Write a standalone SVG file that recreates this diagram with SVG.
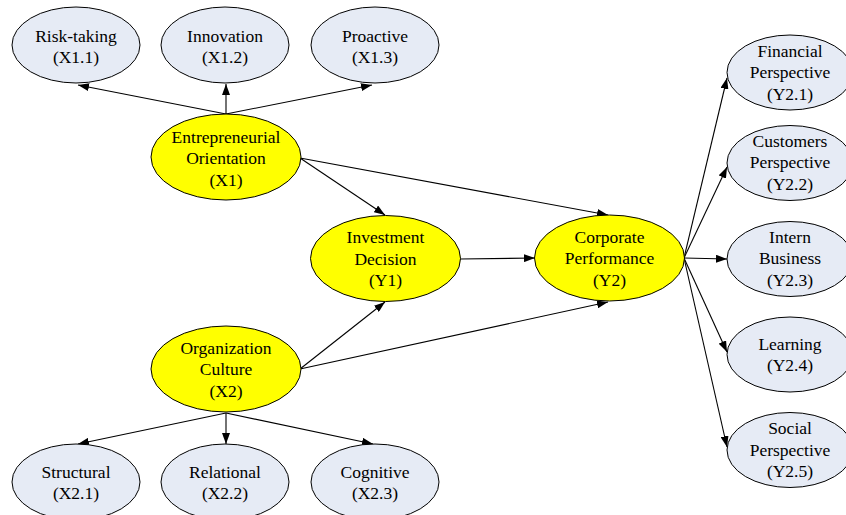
<svg xmlns="http://www.w3.org/2000/svg" width="846" height="515" viewBox="0 0 846 515">
<defs>
<marker id="ah" markerUnits="userSpaceOnUse" markerWidth="12" markerHeight="8" refX="11" refY="4" orient="auto">
<path d="M0,0 L11,4 L0,8 z" fill="#000"/>
</marker>
<style>
.ind{fill:#e6ebf5;stroke:#000;stroke-width:1}
.lat{fill:#ffff00;stroke:#000;stroke-width:1}
.t text{font-size:17.5px;fill:#000;text-anchor:middle}
.e{stroke:#000;stroke-width:1.1;fill:none;marker-end:url(#ah)}
</style>
</defs>
<rect width="846" height="515" fill="#fff"/>
<g id="connectors">
<line class="e" x1="226" y1="114" x2="78" y2="85"/>
<line class="e" x1="226" y1="114" x2="226" y2="84"/>
<line class="e" x1="226" y1="114" x2="372" y2="85"/>
<line class="e" x1="226" y1="413" x2="78" y2="444"/>
<line class="e" x1="226" y1="413" x2="226" y2="444"/>
<line class="e" x1="226" y1="413" x2="373" y2="444"/>
<line class="e" x1="300" y1="158" x2="385" y2="215"/>
<line class="e" x1="300" y1="158" x2="608" y2="215"/>
<line class="e" x1="460" y1="259" x2="535" y2="258"/>
<line class="e" x1="300" y1="369" x2="385" y2="302"/>
<line class="e" x1="300" y1="369" x2="608" y2="302"/>
<line class="e" x1="684" y1="258" x2="727" y2="78"/>
<line class="e" x1="684" y1="258" x2="727" y2="167"/>
<line class="e" x1="684" y1="258" x2="727" y2="259"/>
<line class="e" x1="684" y1="258" x2="727" y2="352"/>
<line class="e" x1="684" y1="258" x2="727" y2="447"/>
</g>
<g class="t" font-family="'Liberation Serif', 'DejaVu Serif', serif">
<g id="x11"><ellipse class="ind" cx="76" cy="45" rx="64" ry="38"/><text x="76" y="42">Risk-taking</text><text x="76" y="63">(X1.1)</text></g>
<g id="x12"><ellipse class="ind" cx="225" cy="45" rx="64" ry="38"/><text x="225" y="42">Innovation</text><text x="225" y="63">(X1.2)</text></g>
<g id="x13"><ellipse class="ind" cx="375" cy="45" rx="64" ry="38"/><text x="375" y="42">Proactive</text><text x="375" y="63">(X1.3)</text></g>
<g id="x1"><ellipse class="lat" cx="226" cy="157" rx="75" ry="43"/><text x="226" y="143">Entrepreneurial</text><text x="226" y="164">Orientation</text><text x="226" y="186">(X1)</text></g>
<g id="x2"><ellipse class="lat" cx="226" cy="369" rx="75" ry="43"/><text x="226" y="354">Organization</text><text x="226" y="375">Culture</text><text x="226" y="397">(X2)</text></g>
<g id="y1"><ellipse class="lat" cx="385.5" cy="258.5" rx="75" ry="43"/><text x="385.5" y="243">Investment</text><text x="385.5" y="265">Decision</text><text x="385.5" y="286">(Y1)</text></g>
<g id="y2"><ellipse class="lat" cx="609.5" cy="258" rx="75" ry="43"/><text x="609.5" y="243">Corporate</text><text x="609.5" y="264">Performance</text><text x="609.5" y="286">(Y2)</text></g>
<g id="x21"><ellipse class="ind" cx="76" cy="482" rx="64" ry="38"/><text x="76" y="478">Structural</text><text x="76" y="499">(X2.1)</text></g>
<g id="x22"><ellipse class="ind" cx="225" cy="482" rx="64" ry="38"/><text x="225" y="478">Relational</text><text x="225" y="499">(X2.2)</text></g>
<g id="x23"><ellipse class="ind" cx="375" cy="482" rx="64" ry="38"/><text x="375" y="478">Cognitive</text><text x="375" y="499">(X2.3)</text></g>
<g id="y21"><ellipse class="ind" cx="790" cy="72.5" rx="63" ry="37.5"/><text x="790" y="57">Financial</text><text x="790" y="78">Perspective</text><text x="790" y="100">(Y2.1)</text></g>
<g id="y22"><ellipse class="ind" cx="790" cy="163" rx="63" ry="37.5"/><text x="790" y="147">Customers</text><text x="790" y="168">Perspective</text><text x="790" y="190">(Y2.2)</text></g>
<g id="y23"><ellipse class="ind" cx="790" cy="259" rx="63" ry="37.5"/><text x="790" y="243">Intern</text><text x="790" y="264">Business</text><text x="790" y="286">(Y2.3)</text></g>
<g id="y24"><ellipse class="ind" cx="790" cy="354.5" rx="63" ry="37.5"/><text x="790" y="350">Learning</text><text x="790" y="371">(Y2.4)</text></g>
<g id="y25"><ellipse class="ind" cx="790" cy="450" rx="63" ry="37.5"/><text x="790" y="434">Social</text><text x="790" y="456">Perspective</text><text x="790" y="477">(Y2.5)</text></g>
</g>
</svg>
